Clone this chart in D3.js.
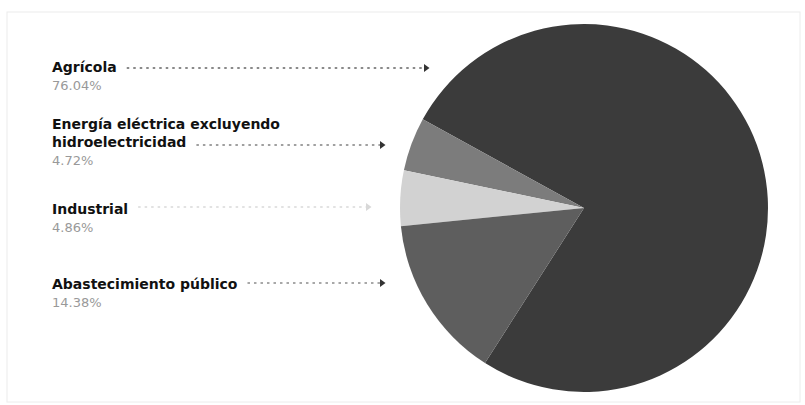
<!DOCTYPE html>
<html>
<head>
<meta charset="utf-8">
<script src="https://cdn.jsdelivr.net/npm/d3@7/dist/d3.min.js"></script>
<style>
  html, body { margin: 0; padding: 0; background: #ffffff; }
  svg { display: block; }
</style>
</head>
<body>
<svg id="chart" width="805" height="405"></svg>
<script>
// Data
const categories = ["Agrícola", "Energía eléctrica excluyendo hidroelectricidad", "Industrial", "Abastecimiento público"];
const labelLines = [["Agrícola"], ["Energía eléctrica excluyendo", "hidroelectricidad"], ["Industrial"], ["Abastecimiento público"]];
const values = [76.04, 4.72, 4.86, 14.38];
const valueLabels = ["76.04%", "4.72%", "4.86%", "14.38%"];
const drawOrder = [0, 3, 2, 1]; // clockwise order of slices
const colors = ["#3b3b3b", "#7c7c7c", "#d2d2d2", "#5e5e5e"];

const svg = d3.select("#chart");

// faint frame
svg.append("rect").attr("x", 7).attr("y", 12).attr("width", 793).attr("height", 390)
  .attr("fill", "#ffffff").attr("stroke", "#ececec").attr("stroke-width", 1);

const cx = 584, cy = 208, r = 184;
const data = categories.map((c, i) => ({ name: c, value: values[i], i }));
const pie = d3.pie().value(d => d.value)
  .sort((a, b) => drawOrder.indexOf(a.i) - drawOrder.indexOf(b.i))
  .startAngle(-61.2 * Math.PI / 180)
  .endAngle((360 - 61.2) * Math.PI / 180);
const arc = d3.arc().innerRadius(0).outerRadius(r);

const g = svg.append("g").attr("transform", `translate(${cx},${cy})`);
g.selectAll("path").data(pie(data)).enter().append("path")
  .attr("d", arc)
  .attr("fill", d => colors[d.data.i]);

// Labels
const font = "'DejaVu Sans', 'Noto Sans', sans-serif";
const labelX = 52;
const labelY = [72, 129, 214, 289];
const leaderY = [68, 145, 207, 283];
const leaderEnd = [428, 384, 370, 384];
const leaderColor = ["#8a8a8a", "#a0a0a0", "#e2e2e2", "#a8a8a8"];

const lg = svg.append("g");
labelLines.forEach((lines, i) => {
  const t = lg.append("text")
    .attr("x", labelX).attr("y", labelY[i])
    .attr("font-family", font).attr("font-size", 14).attr("font-weight", 700)
    .attr("fill", "#111");
  lines.forEach((ln, k) => {
    t.append("tspan").attr("x", labelX).attr("dy", k === 0 ? 0 : 18).text(ln);
  });
  const lastTspan = t.selectAll("tspan").nodes().slice(-1)[0];
  const w = lastTspan.getComputedTextLength();
  const lastY = labelY[i] + (lines.length - 1) * 18;
  lg.append("text")
    .attr("x", labelX).attr("y", lastY + 18)
    .attr("font-family", font).attr("font-size", 13)
    .attr("fill", "#999999")
    .text(valueLabels[i]);
  lg.append("line")
    .attr("x1", labelX + w + 10).attr("x2", leaderEnd[i] - 4)
    .attr("y1", leaderY[i]).attr("y2", leaderY[i])
    .attr("stroke", leaderColor[i]).attr("stroke-width", 1.8)
    .attr("stroke-dasharray", "2.5,4");
  lg.append("path")
    .attr("d", `M${leaderEnd[i] - 4},${leaderY[i] - 4} L${leaderEnd[i] + 1.5},${leaderY[i]} L${leaderEnd[i] - 4},${leaderY[i] + 4} Z`)
    .attr("fill", i === 2 ? "#d8d8d8" : "#333");
});
</script>
</body>
</html>
